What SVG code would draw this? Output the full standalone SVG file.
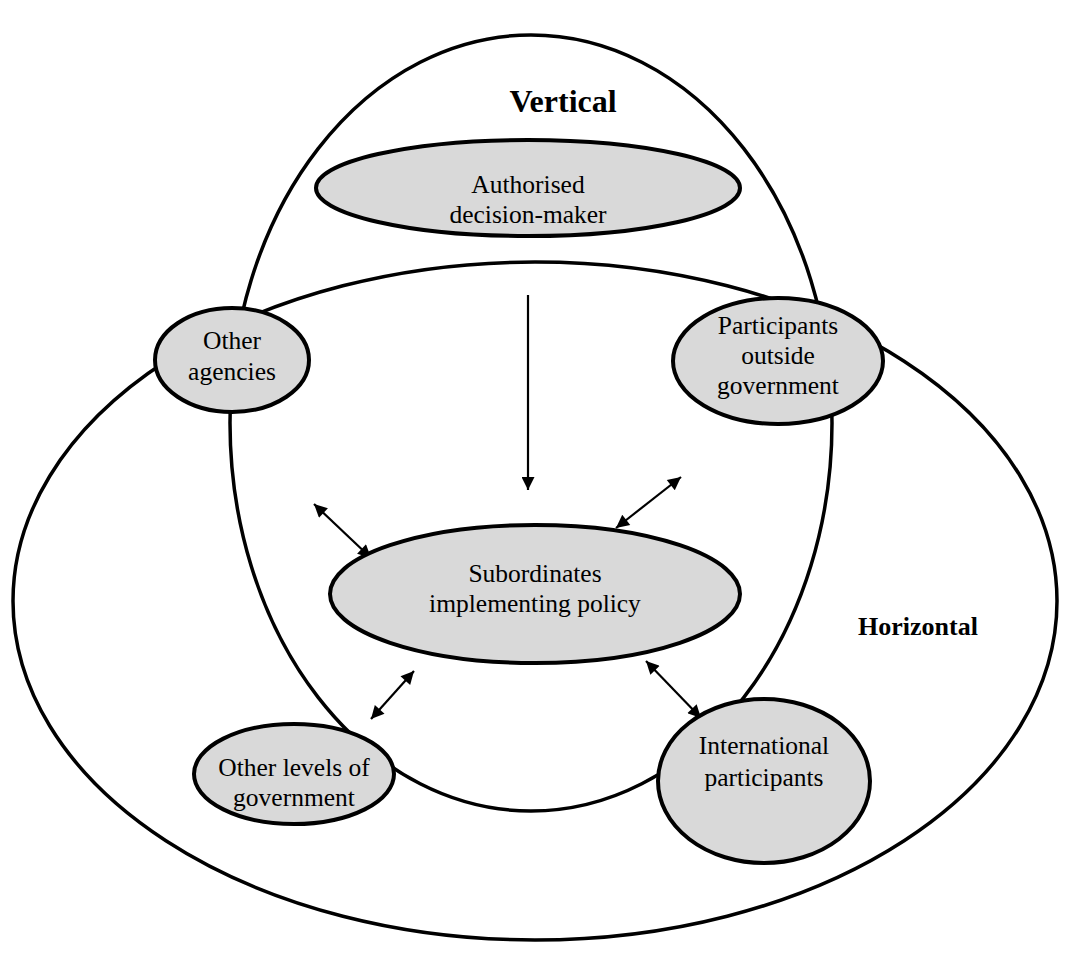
<svg xmlns="http://www.w3.org/2000/svg" width="1067" height="956" viewBox="0 0 1067 956">
<defs>
<style>
.big{fill:none;stroke:#000;stroke-width:3.5}
.node{fill:#d9d9d9;stroke:#000;stroke-width:4}
.t{font-family:"Liberation Serif","Times New Roman",serif;font-size:25.5px;fill:#000;text-anchor:middle}
.h{font-family:"Liberation Serif","Times New Roman",serif;font-weight:bold;fill:#000;text-anchor:middle}
.c{stroke:#000;stroke-width:2.2;fill:none}
</style>
<marker id="ah2" viewBox="0 0 10 10" refX="10" refY="5" markerWidth="16" markerHeight="13" orient="auto-start-reverse" markerUnits="userSpaceOnUse">
<path d="M0,0 L10,5 L0,10 z" fill="#000"/>
</marker>
</defs>
<rect width="1067" height="956" fill="#fff"/>
<g id="regions">
<ellipse id="vertical-region" class="big" cx="531" cy="423" rx="301" ry="388"/>
<ellipse id="horizontal-region" class="big" cx="535" cy="601" rx="522" ry="339"/>
<text class="h" x="563" y="112" font-size="32">Vertical</text>
<text class="h" x="918" y="635" font-size="26">Horizontal</text>
</g>
<g id="connectors">
<line class="c" x1="528" y1="295" x2="528" y2="490" marker-end="url(#ah2)"/>
<line class="c" x1="314" y1="504" x2="371" y2="558" marker-start="url(#ah2)" marker-end="url(#ah2)"/>
<line class="c" x1="681" y1="477" x2="616" y2="528" marker-start="url(#ah2)" marker-end="url(#ah2)"/>
<line class="c" x1="371" y1="719" x2="414" y2="671" marker-start="url(#ah2)" marker-end="url(#ah2)"/>
<line class="c" x1="646" y1="661" x2="701" y2="718" marker-start="url(#ah2)" marker-end="url(#ah2)"/>
</g>
<g id="authorised">
<ellipse class="node" cx="528" cy="188" rx="212" ry="48"/>
<text class="t" x="528" y="193">Authorised</text>
<text class="t" x="528" y="223">decision-maker</text>
</g>
<g id="other-agencies">
<ellipse class="node" cx="232" cy="360" rx="77" ry="52"/>
<text class="t" x="232" y="349">Other</text>
<text class="t" x="232" y="380">agencies</text>
</g>
<g id="participants-outside">
<ellipse class="node" cx="778" cy="361" rx="105" ry="63"/>
<text class="t" x="778" y="334">Participants</text>
<text class="t" x="778" y="364">outside</text>
<text class="t" x="778" y="394">government</text>
</g>
<g id="subordinates">
<ellipse class="node" cx="535" cy="594" rx="205" ry="69"/>
<text class="t" x="535" y="582">Subordinates</text>
<text class="t" x="535" y="612">implementing policy</text>
</g>
<g id="other-levels">
<ellipse class="node" cx="294" cy="774" rx="100" ry="50"/>
<text class="t" x="294" y="776">Other levels of</text>
<text class="t" x="294" y="806">government</text>
</g>
<g id="international">
<ellipse class="node" cx="764" cy="781" rx="106" ry="82"/>
<text class="t" x="764" y="754">International</text>
<text class="t" x="764" y="786">participants</text>
</g>
</svg>
